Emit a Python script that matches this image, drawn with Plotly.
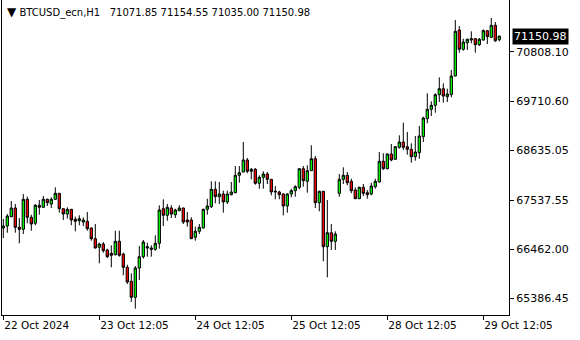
import plotly.graph_objects as go

symbol_title = "BTCUSD_ecn,H1"
last_ohlc = ["71071.85", "71154.55", "71035.00", "71150.98"]
last_price = 71150.98

opens = [66932, 66976.0, 67180.4, 67371.7, 66947.4, 66903.4, 67563.0, 67167.2, 67035.3, 67431.1,
         67387.1, 67563.0, 67459.7, 67563.0, 67694.9, 67356.3, 67239.8, 67343.1, 67123.3, 67092.5,
         67063.9, 67079.3, 66932.0, 66696.7, 66507.7, 66580.2, 66448.3, 66375.7, 66345.0, 66639.6,
         66360.4, 66067.9, 65760.1, 65408.4, 66052.6, 66301.0, 66492.3, 66492.3, 66463.7, 66595.6,
         67356.3, 67211.2, 67371.7, 67224.4, 67312.4, 67371.7, 67107.9, 67107.9, 66727.5, 66859.4,
         66932.0, 67343.1, 67400.3, 67782.9, 67620.2, 67679.5, 67503.6, 67664.1, 67708.1, 68090.7,
         68163.2, 68427.0, 68178.6, 68222.6, 67914.8, 68046.7, 68119.2, 68002.7, 67723.5, 67723.5,
         67679.5, 67415.7, 67679.5, 67752.1, 67826.9, 68235.8, 67958.7, 68191.8, 68455.6, 67488.2,
         67738.9, 66520.8, 66828.7, 66639.6, 67694.9, 68002.7, 68090.7, 67958.7, 67767.5, 67576.2,
         67826.9, 67708.1, 67679.5, 67840.0, 67943.3, 68398.5, 68235.8, 68559.0, 68442.4, 68706.3,
         68822.8, 68719.5, 68662.3, 68499.6, 68587.5, 68939.3, 69335.1, 69541.7, 69629.7, 69862.7,
         69994.6, 69818.7, 69862.7, 70273.9, 71285.2, 70860.9, 71006.0, 71065.4, 71093.9, 70962.0,
         71065.4, 71269.8, 71124.7, 71388.6, 71071.85]

highs = [67129.9, 67239.8, 67525.6, 67459.7, 67151.9, 67679.5, 67620.2, 67224.4, 67459.7, 67547.6,
         67635.5, 67576.2, 67607.0, 67826.9, 67700.0, 67360.0, 67387.1, 67350.0, 67180.4, 67211.2,
         67167.2, 67283.8, 66947.4, 67019.9, 66608.8, 66624.2, 66476.9, 66551.6, 66872.6, 66872.6,
         66388.9, 66125.1, 65936.0, 66096.5, 66536.2, 66668.2, 66608.8, 66551.6, 66771.5, 67431.1,
         67563.0, 67459.7, 67431.1, 67356.3, 67431.1, 67380.0, 67283.8, 67167.2, 66960.6, 67019.9,
         67356.3, 67576.2, 67958.7, 67958.7, 67943.3, 67752.1, 67752.1, 67943.3, 68295.1, 68295.1,
         68822.8, 68471.0, 68251.2, 68251.2, 68090.7, 68178.6, 68163.2, 68010.0, 67855.4, 67752.1,
         67694.9, 67694.9, 67796.0, 67870.8, 68251.2, 68295.1, 68310.5, 68750.2, 68515.0, 67752.1,
         67745.0, 67547.6, 67019.9, 66859.4, 68119.2, 68266.5, 68163.2, 68015.9, 67826.9, 67840.0,
         67899.4, 67767.5, 67928.0, 68015.9, 68602.9, 68574.3, 68574.3, 68778.8, 68734.8, 68970.1,
         69247.1, 69042.6, 68794.2, 68954.7, 69174.6, 69379.0, 69893.5, 69717.6, 69893.5, 70245.3,
         70113.4, 69994.6, 70405.8, 71505.1, 71373.2, 71093.9, 71093.9, 71256.6, 71109.3, 71109.3,
         71300.6, 71285.2, 71549.1, 71461.1, 71154.55]

lows = [66712.1, 66828.7, 67167.2, 66828.7, 66595.6, 66800.1, 67035.3, 66872.6, 66991.4, 67224.4,
        67371.7, 67415.7, 67371.7, 67547.6, 67268.3, 67107.9, 67136.5, 66991.4, 66859.4, 66991.4,
        66976.0, 66872.6, 66652.8, 66481.0, 66155.9, 66388.9, 66272.4, 66067.9, 66331.8, 66301.0,
        65892.0, 65700.8, 65305.0, 65157.7, 65788.7, 66257.0, 66301.0, 66301.0, 66432.9, 66476.9,
        66976.0, 67092.5, 67151.9, 67151.9, 67299.2, 67019.9, 66960.6, 66690.0, 66652.8, 66800.1,
        66925.0, 67224.4, 67371.7, 67475.1, 67459.7, 67268.3, 67459.7, 67650.9, 67694.9, 67928.0,
        68155.0, 68134.6, 68002.7, 67884.0, 67796.0, 67796.0, 67899.4, 67650.9, 67563.0, 67563.0,
        67211.2, 67268.3, 67607.0, 67620.2, 67782.9, 67840.0, 67708.1, 68185.0, 67371.7, 67299.2,
        66199.9, 65848.1, 66448.3, 66448.3, 67620.2, 67899.4, 67870.8, 67694.9, 67570.0, 67570.0,
        67635.5, 67576.2, 67650.9, 67796.0, 67935.0, 68207.2, 68222.6, 68398.5, 68427.0, 68675.5,
        68646.9, 68543.6, 68367.7, 68411.6, 68455.6, 68822.8, 69233.9, 69394.4, 69467.0, 69702.2,
        69686.8, 69702.2, 69805.6, 70265.0, 70786.1, 70830.1, 70845.5, 70992.8, 70786.1, 70933.4,
        71050.0, 70977.4, 71109.3, 71021.4, 71035.00]

closes = [66976, 67195.8, 67371.7, 66947.4, 66903.4, 67563.0, 67167.2, 67019.9, 67431.1, 67387.1,
          67563.0, 67488.2, 67563.0, 67694.9, 67356.3, 67239.8, 67343.1, 67107.9, 67079.3, 67136.5,
          67107.9, 66916.6, 66696.7, 66492.3, 66580.2, 66432.9, 66301.0, 66331.8, 66639.6, 66331.8,
          66067.9, 65744.7, 65408.4, 66052.6, 66301.0, 66624.2, 66520.8, 66463.7, 66595.6, 67327.7,
          67211.2, 67387.1, 67239.8, 67327.7, 67371.7, 67063.9, 67063.9, 66696.7, 66859.4, 66947.4,
          67343.1, 67415.7, 67782.9, 67620.2, 67679.5, 67503.6, 67679.5, 67723.5, 68090.7, 68147.8,
          68427.0, 68178.6, 68222.6, 67914.8, 68046.7, 68119.2, 68002.7, 67723.5, 67738.9, 67664.1,
          67415.7, 67679.5, 67752.1, 67840.0, 68235.8, 67971.9, 68191.8, 68455.6, 67488.2, 67738.9,
          66520.8, 66828.7, 66639.6, 66800.1, 68002.7, 68090.7, 67928.0, 67752.1, 67576.2, 67826.9,
          67694.9, 67664.1, 67855.4, 67958.7, 68398.5, 68235.8, 68559.0, 68427.0, 68719.5, 68822.8,
          68706.3, 68662.3, 68499.6, 68602.9, 68954.7, 69350.5, 69541.7, 69629.7, 69862.7, 69994.6,
          69834.1, 69878.1, 70273.9, 71256.6, 70860.9, 71021.4, 71080.7, 71093.9, 70962.0, 71080.7,
          71269.8, 71137.9, 71388.6, 71050.0, 71150.98]

bar_index = list(range(len(opens)))

x_tick_bars = [0, 24, 48, 72, 96, 120]
x_tick_labels = ["22 Oct 2024", "23 Oct 12:05", "24 Oct 12:05", "25 Oct 12:05",
                 "28 Oct 12:05", "29 Oct 12:05"]

y_tick_vals = [65386.45, 66462.00, 67537.55, 68635.05, 69710.60, 70808.10]
y_tick_labels = ["%.2f" % v for v in y_tick_vals]

fig = go.Figure()
fig.add_trace(go.Candlestick(
    x=bar_index, open=opens, high=highs, low=lows, close=closes,
    increasing=dict(line=dict(color="black", width=1), fillcolor="#00ff00"),
    decreasing=dict(line=dict(color="black", width=1), fillcolor="#ff0000"),
    whiskerwidth=0, hoverinfo="skip", showlegend=False,
))

fig.add_annotation(
    xref="paper", yref="y", x=1, y=last_price, xanchor="left", yanchor="middle",
    xshift=3, text="%.2f" % last_price, showarrow=False,
    font=dict(family="DejaVu Sans", size=11, color="white"),
    bgcolor="black", borderpad=1,
)

fig.add_annotation(
    xref="paper", yref="paper", x=0, y=1, xanchor="left", yanchor="top",
    xshift=3, yshift=-3,
    text="<span style='font-size:12px'>\u25bc</span>\u00a0" + symbol_title
         + "\u00a0\u00a0\u00a0" + " ".join(last_ohlc),
    showarrow=False, font=dict(family="DejaVu Sans", size=10, color="black"),
    bgcolor="white",
)

fig.update_layout(
    width=580, height=340,
    margin=dict(l=2, r=71, t=0, b=25),
    paper_bgcolor="white", plot_bgcolor="white",
    boxgap=0.18,
    xaxis=dict(
        range=[-0.325, 126.425], rangeslider=dict(visible=False),
        showgrid=False, zeroline=False,
        showline=True, mirror=True, linecolor="black", linewidth=1,
        tickmode="array", tickvals=x_tick_bars, ticktext=x_tick_labels,
        ticks="outside", ticklen=4, tickcolor="black",
        ticklabelposition="outside right",
        tickfont=dict(family="DejaVu Sans", size=10.5, color="black"),
    ),
    yaxis=dict(
        range=[65019.2, 71944.8], side="right",
        showgrid=False, zeroline=False,
        showline=True, mirror=True, linecolor="black", linewidth=1,
        tickmode="array", tickvals=y_tick_vals, ticktext=y_tick_labels,
        ticks="outside", ticklen=4, tickcolor="black",
        tickfont=dict(family="DejaVu Sans", size=11, color="black"),
    ),
)

fig.write_html("out.html")
